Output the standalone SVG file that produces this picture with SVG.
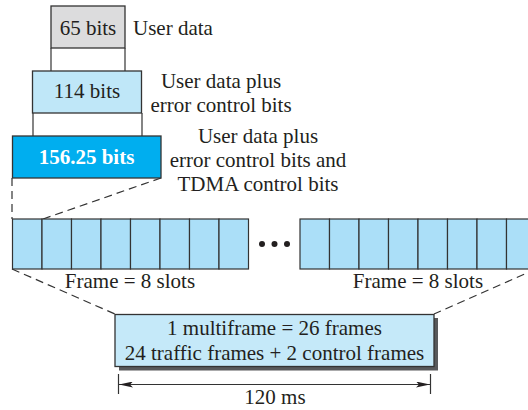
<svg xmlns="http://www.w3.org/2000/svg" width="528" height="410" viewBox="0 0 528 410">
<style>
text{font-family:"Liberation Serif","Times New Roman",serif;font-size:21px;fill:#231f20}
.c{text-anchor:middle}
.box{stroke:#333;stroke-width:1.3}
.ln{stroke:#333;stroke-width:1.2;fill:none}
.dash{stroke:#333;stroke-width:1.2;fill:none;stroke-dasharray:8 5}
.slot{fill:#abdff8;stroke:#333;stroke-width:1.2}
</style>
<defs>
<marker id="ah" viewBox="0 0 14 6" refX="14" refY="3" markerWidth="14" markerHeight="6" orient="auto-start-reverse" markerUnits="userSpaceOnUse">
<path d="M0,0 L14,3 L0,6 L3,3 Z" fill="#231f20"/>
</marker>
</defs>
<rect width="528" height="410" fill="#fff"/>
<g id="connectors">
<line class="ln" x1="51" y1="48" x2="51" y2="71"/>
<line class="ln" x1="125" y1="48" x2="125" y2="71"/>
<line class="ln" x1="33" y1="113" x2="33" y2="136"/>
<line class="ln" x1="142" y1="113" x2="142" y2="136"/>
<line class="dash" x1="12" y1="178" x2="12" y2="219"/>
<line class="dash" x1="161" y1="178" x2="43" y2="219"/>
<line class="dash" x1="12" y1="269" x2="115" y2="314"/>
<line class="dash" x1="536" y1="269" x2="434" y2="314"/>
</g>
<g id="n65">
<rect class="box" x="51" y="6" width="74" height="42" fill="#dcdcdd"/>
<text class="c" x="88" y="35">65 bits</text>
<text x="133" y="35">User data</text>
</g>
<g id="n114">
<rect class="box" x="32.5" y="71" width="109" height="42" fill="#bfe7f8"/>
<text class="c" x="87" y="98">114 bits</text>
<text class="c" x="221" y="88">User data plus</text>
<text class="c" x="221" y="112">error control bits</text>
</g>
<g id="n156">
<rect class="box" x="12.5" y="136" width="148.5" height="42" fill="#00aeef"/>
<text class="c" x="86.5" y="164" style="fill:#fff;font-weight:bold">156.25 bits</text>
<text class="c" x="258" y="143">User data plus</text>
<text class="c" x="258" y="167">error control bits and</text>
<text class="c" x="258" y="191">TDMA control bits</text>
</g>
<g id="frame1">
<rect class="slot" x="12.5" y="219" width="29.5" height="50"/>
<rect class="slot" x="42" y="219" width="29.5" height="50"/>
<rect class="slot" x="71.5" y="219" width="29.5" height="50"/>
<rect class="slot" x="101" y="219" width="29.5" height="50"/>
<rect class="slot" x="130.5" y="219" width="29.5" height="50"/>
<rect class="slot" x="160" y="219" width="29.5" height="50"/>
<rect class="slot" x="189.5" y="219" width="29.5" height="50"/>
<rect class="slot" x="219" y="219" width="29.5" height="50"/>
<text class="c" x="130" y="288">Frame = 8 slots</text>
</g>
<g id="dots">
<circle cx="262" cy="244" r="3" fill="#231f20"/>
<circle cx="274.5" cy="244" r="3" fill="#231f20"/>
<circle cx="287" cy="244" r="3" fill="#231f20"/>
</g>
<g id="frame2">
<rect class="slot" x="300" y="219" width="29.5" height="50"/>
<rect class="slot" x="329.5" y="219" width="29.5" height="50"/>
<rect class="slot" x="359" y="219" width="29.5" height="50"/>
<rect class="slot" x="388.5" y="219" width="29.5" height="50"/>
<rect class="slot" x="418" y="219" width="29.5" height="50"/>
<rect class="slot" x="447.5" y="219" width="29.5" height="50"/>
<rect class="slot" x="477" y="219" width="29.5" height="50"/>
<rect class="slot" x="506.5" y="219" width="29.5" height="50"/>
<text class="c" x="418" y="288">Frame = 8 slots</text>
</g>
<g id="multiframe">
<rect x="119" y="318" width="319" height="52.5" fill="#58595b"/>
<rect class="box" x="115" y="314.5" width="319" height="52" fill="#c5e9f9"/>
<text class="c" x="274.5" y="335">1 multiframe = 26 frames</text>
<text class="c" x="274.5" y="360">24 traffic frames + 2 control frames</text>
</g>
<g id="duration">
<line class="ln" x1="118.5" y1="374" x2="118.5" y2="394"/>
<line class="ln" x1="430.5" y1="374" x2="430.5" y2="394"/>
<line class="ln" x1="119" y1="384.5" x2="430" y2="384.5" marker-start="url(#ah)" marker-end="url(#ah)"/>
<text class="c" x="275" y="404">120 ms</text>
</g>
</svg>
